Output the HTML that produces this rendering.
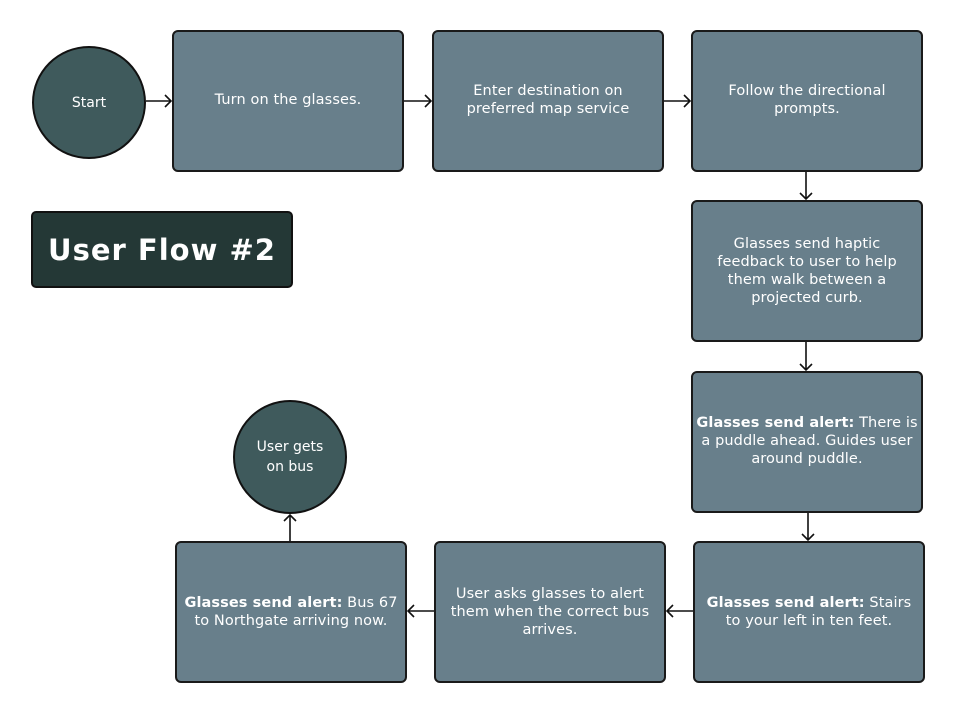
<!DOCTYPE html>
<html><head><meta charset="utf-8"><style>
body{margin:0;background:#fff;width:954px;height:714px;position:relative;overflow:hidden;font-family:"DejaVu Sans","Liberation Sans",sans-serif;}
.b{position:absolute;box-sizing:border-box;background:#687f8b;border:2px solid #1a1a1a;border-radius:6px;color:#fff;display:flex;align-items:center;justify-content:center;text-align:center;font-size:14.5px;line-height:18px;padding:0 2px;letter-spacing:0.1px;white-space:nowrap}
.c{position:absolute;box-sizing:border-box;background:#3f5a5c;border:2px solid #111;border-radius:50%;color:#fff;display:flex;align-items:center;justify-content:center;text-align:center;font-size:14px;line-height:20px}
b{font-weight:bold}
svg{position:absolute;left:0;top:0}
</style></head><body>
<div class="c" style="left:32px;top:46px;width:114px;height:113px;">Start</div>
<div class="b" style="left:172px;top:30px;width:232px;height:142px;"><span style="margin-top:-2px">Turn on the glasses.</span></div>
<div class="b" style="left:432px;top:30px;width:232px;height:142px;"><span style="margin-top:-2px">Enter destination on<br>preferred map service</span></div>
<div class="b" style="left:691px;top:30px;width:232px;height:142px;"><span style="margin-top:-2px">Follow the directional<br>prompts.</span></div>
<div class="b" style="left:691px;top:200px;width:232px;height:142px;">Glasses send haptic<br>feedback to user to help<br>them walk between a<br>projected curb.</div>
<div class="b" style="left:691px;top:371px;width:232px;height:142px;"><span style="margin-top:-2px"><b>Glasses send alert:</b> There is<br>a puddle ahead. Guides user<br>around puddle.</span></div>
<div class="b" style="left:693px;top:541px;width:232px;height:142px;"><span><b>Glasses send alert:</b> Stairs<br>to your left in ten feet.</span></div>
<div class="b" style="left:434px;top:541px;width:232px;height:142px;">User asks glasses to alert<br>them when the correct bus<br>arrives.</div>
<div class="b" style="left:175px;top:541px;width:232px;height:142px;"><span><b>Glasses send alert:</b> Bus 67<br>to Northgate arriving now.</span></div>
<div class="c" style="left:233px;top:400px;width:114px;height:114px;">User gets<br>on bus</div>
<div style="position:absolute;left:31px;top:211px;width:262px;height:77px;box-sizing:border-box;background:#243836;border:2px solid #111;border-radius:5px;color:#fff;font-weight:bold;font-size:29px;display:flex;align-items:center;justify-content:center;letter-spacing:1px">User Flow #2</div>
<svg width="954" height="714" fill="none" stroke="#111" stroke-width="1.6">
<path d="M146 101H171M165 95l6 6-6 6"/>
<path d="M404 101H431M425 95l6 6-6 6"/>
<path d="M664 101H690M684 95l6 6-6 6"/>
<path d="M806 172V199M800 193l6 6 6-6"/>
<path d="M806 342V370M800 364l6 6 6-6"/>
<path d="M808 513V540M802 534l6 6 6-6"/>
<path d="M693 611H667M673 605l-6 6 6 6"/>
<path d="M434 611H408M414 605l-6 6 6 6"/>
<path d="M290 541V515M284 521l6-6 6 6"/>
</svg>
</body></html>
